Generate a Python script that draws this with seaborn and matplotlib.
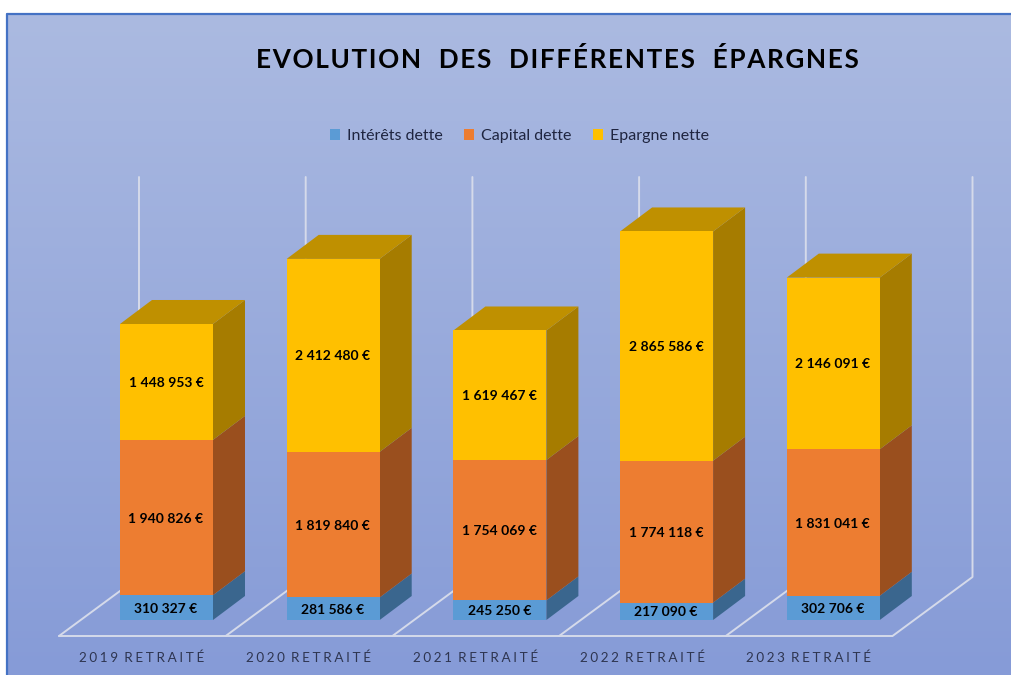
import numpy as np
import matplotlib
matplotlib.use('Agg')
import matplotlib.pyplot as plt
from matplotlib.colors import LinearSegmentedColormap
from matplotlib.patches import Polygon
import seaborn as sns

categories = ['2019 RETRAITÉ', '2020 RETRAITÉ', '2021 RETRAITÉ', '2022 RETRAITÉ', '2023 RETRAITÉ']
interets = [310327, 281586, 245250, 217090, 302706]
capital = [1940826, 1819840, 1754069, 1774118, 1831041]
epargne = [1448953, 2412480, 1619467, 2865586, 2146091]
series_names = ['Intérêts dette', 'Capital dette', 'Epargne nette']
front_colors = ['#5B9BD5', '#ED7D31', '#FFC000']
side_colors = ['#3A668E', '#9A4F1E', '#A67C00']
top_color = '#BF9000'

W, H = 1011, 675
PX_CAT = 166.7    # pixels par categorie
PX_VAL = 12500    # euros par pixel
X0, Y0 = 166.5, 620   # pixel de la categorie 0 / valeur 0

sns.set_theme(style='white')
plt.rcParams['font.family'] = ['Lato', 'DejaVu Sans']

fig = plt.figure(figsize=(W / 100, H / 100), dpi=100, facecolor='white')

# fond en degrade
bg = fig.add_axes([6 / W, 0, 1 - 6 / W, 1 - 13 / H], zorder=0)
cmap = LinearSegmentedColormap.from_list('fond', ['#ABBAE1', '#869BD7'])
bg.imshow(np.linspace(0, 1, 256)[:, None], aspect='auto', cmap=cmap)
bg.set_axis_off()

ax = fig.add_axes([0, 0, 1, 1], zorder=1)
ax.patch.set_alpha(0)


def px(x, y):
    return (x - X0) / PX_CAT, (Y0 - y) * PX_VAL


# bordure haut / gauche
ax.plot(*zip(px(6.5, H), px(6.5, 13.5), px(W, 13.5)), color='#4472C4', lw=1.6, zorder=1)

# plancher et lignes verticales
grid_col = '#D5DAEA'
front_y = 636
back_y = 577
top_y = 177
for i in range(6):
    fx = 59 + i * PX_CAT
    bx = 139 + i * PX_CAT
    ax.plot(*zip(px(fx, front_y), px(bx, back_y), px(bx, top_y)), color=grid_col, lw=1.4, zorder=1)
ax.plot(*zip(px(59, front_y), px(59 + 5 * PX_CAT, front_y)), color=grid_col, lw=1.4, zorder=1)

# barres empilees : on dessine les cumuls du plus haut au plus bas
stack = np.array([interets, capital, epargne], dtype=float)
cum = stack.cumsum(axis=0)
width = 93 / PX_CAT
for k in [2, 1, 0]:
    sns.barplot(x=categories, y=cum[k], color=front_colors[k], saturation=1, width=width,
                label=series_names[k], ax=ax, zorder=3, legend=False, linewidth=0)
ax.set_xlim(-X0 / PX_CAT, (W - X0) / PX_CAT)
ax.set_ylim((Y0 - H) * PX_VAL, Y0 * PX_VAL)
ax.set_axis_off()

# faces laterales et dessus
dx = 32 / PX_CAT
dy = 24 * PX_VAL
for i in range(len(categories)):
    xr = i + width / 2
    xl = i - width / 2
    lo = 0
    for k in range(3):
        hi = cum[k][i]
        ax.add_patch(Polygon([(xr, lo), (xr + dx, lo + dy), (xr + dx, hi + dy), (xr, hi)],
                             fc=side_colors[k], ec='none', zorder=2.5))
        lo = hi
    ax.add_patch(Polygon([(xl, lo), (xl + dx, lo + dy), (xr + dx, lo + dy), (xr, lo)],
                         fc=top_color, ec='none', zorder=2.5))

    # valeurs
    lo = 0
    for k in range(3):
        val = int(stack[k][i])
        txt = f'{val:,}'.replace(',', '\u202f') + '\u00a0€'
        ax.text(i - 0.003, lo + stack[k][i] / 2 - 12000, txt, ha='center', va='center', fontsize=10,
                fontweight='bold', color='black', zorder=5)
        lo = cum[k][i]

    # etiquettes d'axe
    spaced = categories[i].split()
    sep = '\u2009\u200a'
    lab = sep.join(spaced[0]) + sep + '\u00a0' + sep.join(spaced[1])
    ax.text(i - 24.5 / PX_CAT, px(0, 658)[1], lab, ha='center', va='center', fontsize=9.7,
            color='#2E3550', zorder=5)

ax.text(*px(557, 60), 'EVOLUTION  DES  DIFFÉRENTES  ÉPARGNES'.replace('', '\u200a')[1:-1],
        ha='center', va='center', fontsize=18.8, fontweight='bold', color='black', zorder=5)

handles = ax.containers[::-1]
fig.legend(handles, series_names, loc='center', bbox_to_anchor=(519.5 / W, 1 - 136 / H), ncol=3,
           frameon=False, fontsize=11.5, labelcolor='#1F2540', handlelength=0.65, handleheight=0.7,
           handletextpad=0.45, columnspacing=1.3)

fig.savefig('out.png', dpi=100, facecolor='white')
